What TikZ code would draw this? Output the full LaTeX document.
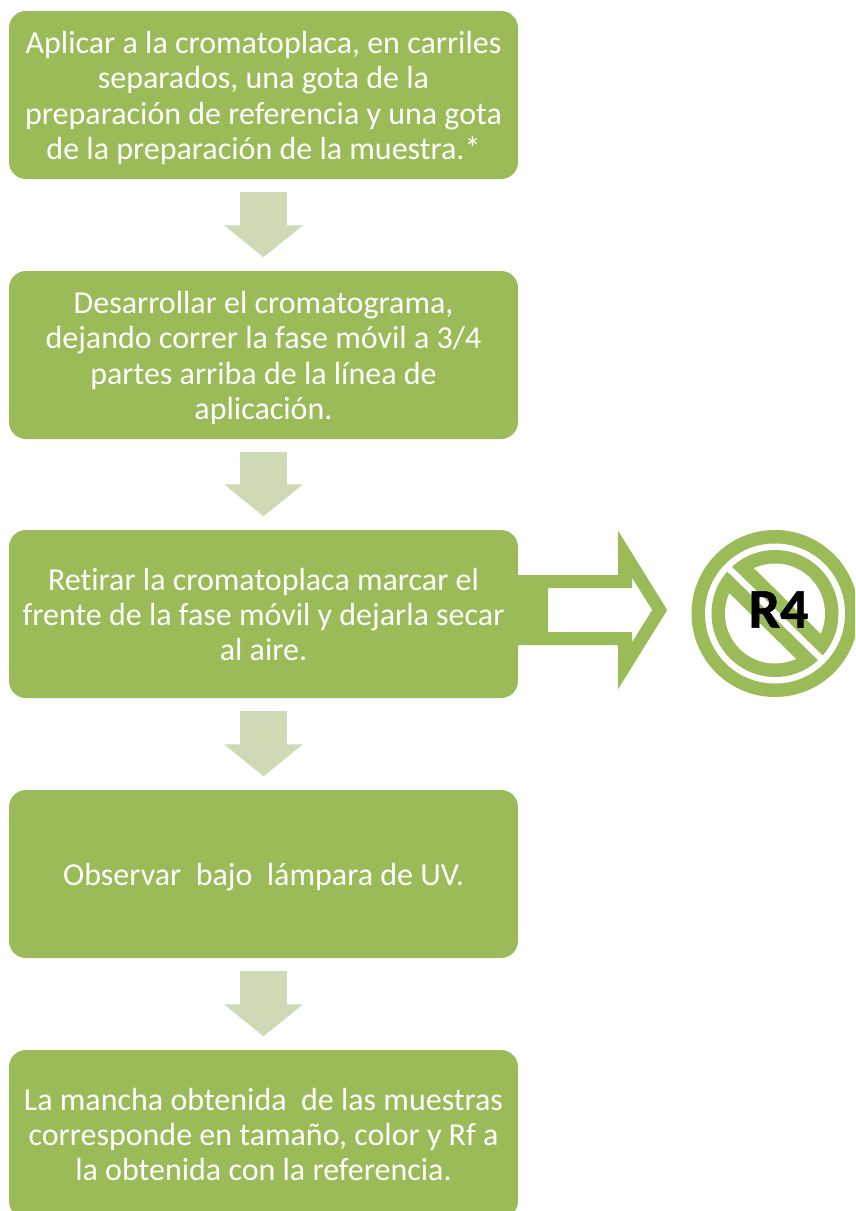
\documentclass[tikz,border=0pt]{standalone}
\usepackage{fontspec}
\setmainfont[Ligatures=NoCommon]{Carlito}
\newfontfamily\rfour[BoldFeatures={FakeBold=1}]{Carlito}
\usetikzlibrary{arrows.meta}
\definecolor{boxgreen}{HTML}{9BBB59}
\definecolor{paleg}{HTML}{CDDAB5}
\newcommand{\tfix}{\rule{0pt}{32pt}}
\newcommand{\bfix}{\rule[-9pt]{0pt}{9pt}}
\tikzset{
  stepbox/.style={fill=boxgreen,rounded corners=17pt,minimum width=509pt,minimum height=168pt,inner sep=0pt,
    align=center,text=white,font=\fontsize{32}{35.4}\selectfont},
  flow/.style={draw=paleg,line width=47pt,-{Triangle[length=32pt,width=77pt,fill=paleg]}},
}
\begin{document}
\begin{tikzpicture}[x=1pt,y=-1pt]
\useasboundingbox (0,0) rectangle (855,1211);
\clip (0,0) rectangle (855,1211);
\fill[white] (0,0) rectangle (855,1211);
\node[stepbox] (a) at (263.5,95) {\tfix Aplicar a la cromatoplaca, en carriles\\separados, una gota de la\\preparación de referencia y una gota\\de la preparación de la muestra.*\bfix};
\node[stepbox] (b) at (263.5,355) {\tfix Desarrollar el cromatograma,\\dejando correr la fase móvil a 3/4\\partes arriba de la línea de\\aplicación.\bfix};
\node[stepbox] (c) at (263.5,614) {\tfix Retirar la cromatoplaca marcar el\\frente de la fase móvil y dejarla secar\\al aire.\bfix};
\node[stepbox] (d) at (263.5,874) {\tfix Observar~ bajo~ lámpara de UV.\bfix};
\node[stepbox] (e) at (263.5,1134) {\tfix La mancha obtenida~ de las muestras\\corresponde en tamaño, color y Rf a\\la obtenida con la referencia.\bfix};
\draw[flow] ([yshift=-13pt]a.south) -- ([yshift=13.5pt]b.north);
\draw[flow] ([yshift=-13pt]b.south) -- ([yshift=13.5pt]c.north);
\draw[flow] ([yshift=-13pt]c.south) -- ([yshift=13.5pt]d.north);
\draw[flow] ([yshift=-13pt]d.south) -- ([yshift=13.5pt]e.north);
% hollow block arrow from box c
\fill[boxgreen,even odd rule,shift={(c.east)}]
  (-2,-39) -- (100,-39) -- (100,-83) -- (149,-4) -- (100,75) -- (100,31) -- (-2,31) -- cycle
  (30,-26) -- (114,-26) -- (114,-36) -- (134,-4) -- (114,28) -- (114,18) -- (30,18) -- cycle;
% prohibition icon
\coordinate (ic) at (775,613.5);
\fill[boxgreen] (ic) circle (83.5);
\fill[white] (ic) circle (70);
\fill[boxgreen] (ic) circle (63.5);
\fill[white] (ic) circle (50);
\begin{scope}
\clip (ic) circle (57);
\draw[boxgreen,line width=35pt] ([shift={(-60,-59)}]ic) -- ([shift={(60,59)}]ic);
\end{scope}
\draw[white,line width=6.5pt] ([shift={(-47,-46)}]ic) -- ([shift={(47,46)}]ic);
\node[inner sep=0pt,text=black,font=\rfour\fontsize{56}{56}\selectfont\bfseries] (r4) at (778.5,609.5) {R4};
\end{tikzpicture}
\end{document}
